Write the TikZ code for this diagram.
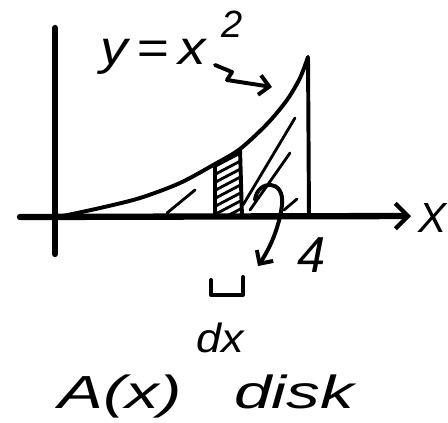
\documentclass[tikz,border=0pt]{standalone}
\usepackage{fontspec}
\setmainfont{Liberation Sans}
\usepackage{tikz}
\usetikzlibrary{arrows, arrows.meta, positioning}

\begin{document}
\begin{tikzpicture}[
    x=0.025cm, y=-0.025cm,
    axis/.style={line width=4.5pt, line cap=round},
    stroke/.style={line width=2.8pt, line cap=round, line join=round},
    hatch/.style={line width=2pt, line cap=round},
    arrow/.style={-{Straight Barb[length=7pt, width=14pt, line width=2.8pt]}, stroke},
    hand/.style={font=\itshape, inner sep=0pt}
]
\useasboundingbox (0,0) rectangle (448,422);

% axes
\coordinate (ytop) at (55,28);
\coordinate (ybot) at (55,254);
\coordinate (xl) at (20,217);
\coordinate (xr) at (411,216);
\draw [axis] (ybot) -- (ytop);
\draw [axis, -{Straight Barb[length=9pt, width=18pt, line width=3pt]}] (xl) -- (xr);
\node (xlab) [hand, anchor=base, font=\itshape\fontsize{30}{30}\selectfont] at (433,232) {X};

% curve and right edge
\coordinate (top) at (308,57);
\coordinate (foot) at (309,217);
\draw [stroke] plot [smooth] coordinates {(58,217) (100,208) (140,198) (180,183) (215,164) (240,149) (267,124) (287,100) (300,78) (308,57)};
\draw [stroke] (top) -- (foot);

% strip
\draw [stroke] (215,165) -- (215,217);
\draw [stroke] (240,149) -- (242,217);
\begin{scope}
    \clip (215,165) -- (240,149) -- (242,217) -- (215,217) -- cycle;
    \foreach \k in {0,...,9} {
        \draw [hatch] (210,225-\k*8) -- (248,205-\k*8);
    }
\end{scope}

% hatching under curve
\draw [hatch] (167,213) -- (195,190);
\draw [hatch] (243,205) -- (295,118);
\draw [hatch] (250,210) -- (290,153);
\draw [hatch] (284,210) -- (297,199);

% rotation arrow
\coordinate (r0) at (255,200);
\coordinate (r1) at (258,266);
\draw [arrow] (r0) .. controls (257,180) and (285,178) .. (282,205) .. controls (279,228) and (270,248) .. (r1);

% labels
\node (fn) [hand, anchor=base west, font=\itshape\fontsize{34}{34}\selectfont] at (100,64) {\scalebox{1.15}[1]{y\,=\,x}};
\node (sq) [hand, anchor=base, font=\itshape\fontsize{27}{27}\selectfont] at (232,37) {2};
\coordinate (w0) at (215,65);
\coordinate (w1) at (272,87);
\draw [arrow] (w0) -- ++(17,7) -- ++(-5,8) -- (w1);

\node (four) [hand, anchor=base, font=\itshape\fontsize{36}{36}\selectfont] at (312,272) {4};
\draw [stroke] (211,280) -- (211,295) -- (243,295) -- (243,277);
\node (dx) [hand, anchor=base, font=\itshape\fontsize{29}{29}\selectfont] at (220,352) {\scalebox{1.1}[1]{dx}};
\node (ax) [hand, anchor=base west, font=\itshape\fontsize{33}{33}\selectfont] at (58,408) {\scalebox{1.45}[1]{A(x)}};
\node (disk) [hand, anchor=base west, font=\itshape\fontsize{33}{33}\selectfont] at (234,408) {\scalebox{1.45}[1]{disk}};

\end{tikzpicture}
\end{document}
